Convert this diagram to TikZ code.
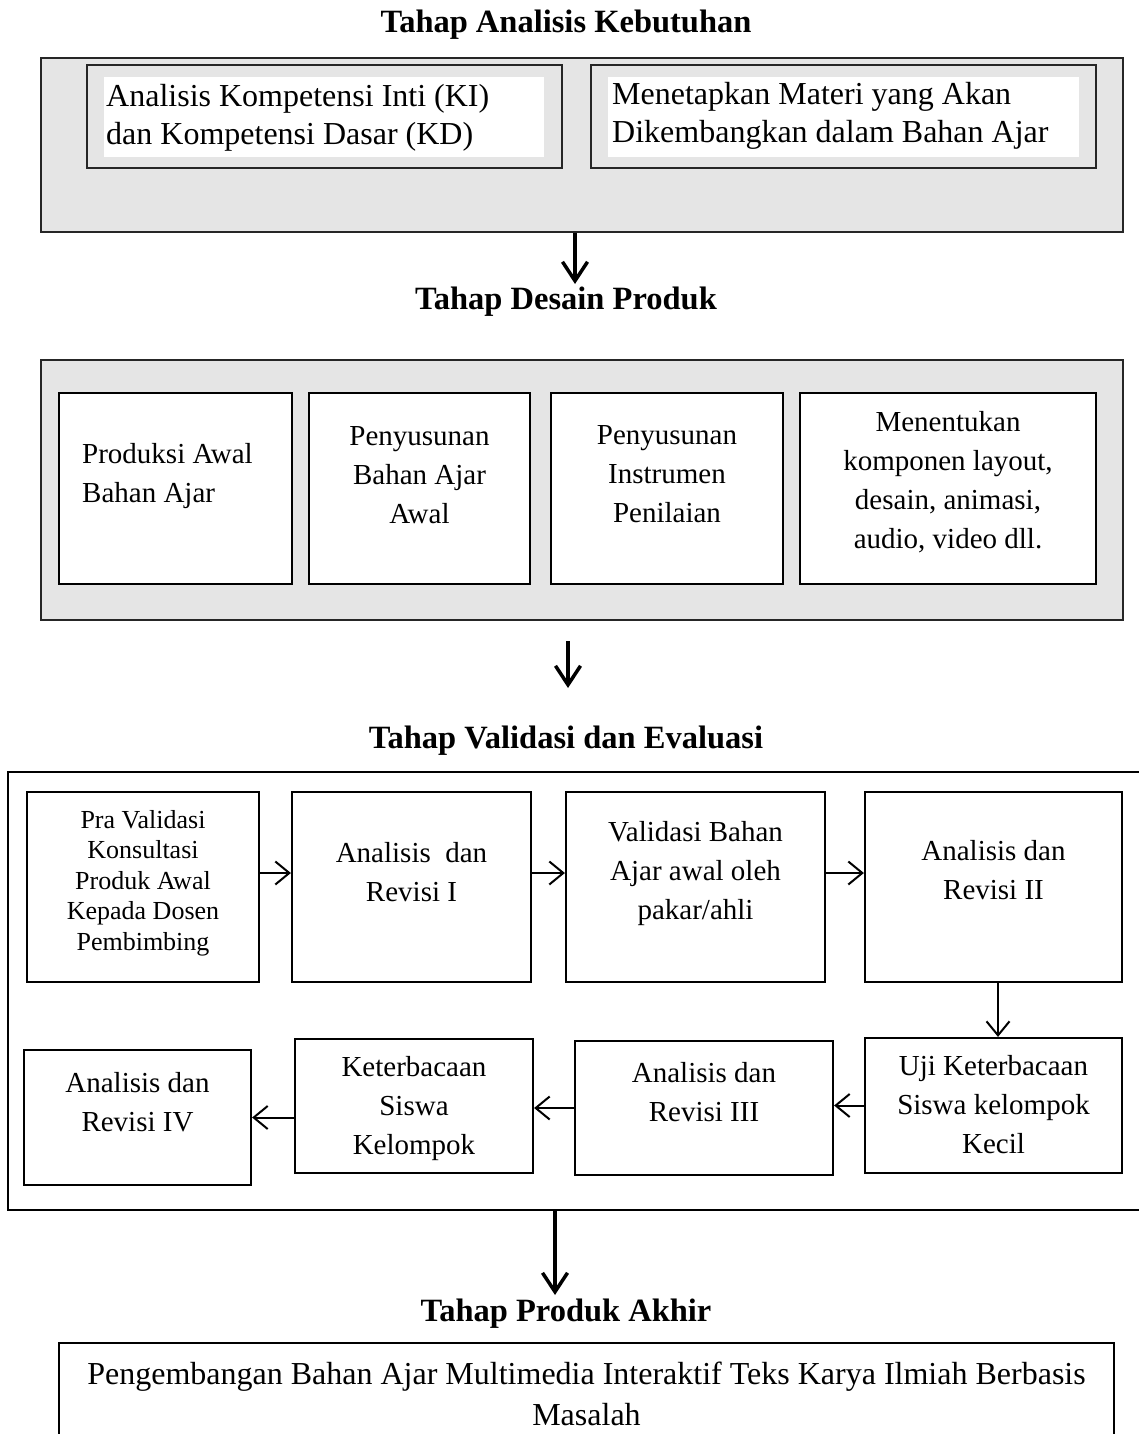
\documentclass[tikz,border=0pt]{standalone}
\usepackage{fontspec}
\setmainfont{Liberation Serif}
\usetikzlibrary{arrows.meta,fit}
\tikzset{
  graybox/.style={draw=black!85, fill=gray!20, line width=2.2pt, inner sep=0pt},
  wbox/.style={draw=black, fill=white, line width=2.2pt, inner sep=0pt},
  plainw/.style={draw=none, fill=white, inner sep=0pt},
  txt/.style={inner sep=0pt, align=center},
  ftop/.style={font=\fontsize{32}{38}\selectfont},
  fbot/.style={font=\fontsize{32}{41}\selectfont},
  fmid/.style={font=\fontsize{29}{39}\selectfont},
  fsmall/.style={font=\fontsize{26}{30.5}\selectfont},
  ftitle/.style={font=\bfseries\fontsize{32.5}{38}\selectfont, inner sep=0pt, anchor=base},
  bigarrow/.style={line width=3.5pt, -{Straight Barb[length=19pt,width=25pt,line width=3.5pt]}},
  smallarrow/.style={line width=2pt, -{Straight Barb[length=14pt,width=23pt,line width=2pt]}},
}
\begin{document}
\begin{tikzpicture}[x=1pt,y=-1pt]
\useasboundingbox (0,0) rectangle (1139,1434);
\fill[white] (0,0) rectangle (1139,1434);

% ---------- Tahap Analisis Kebutuhan ----------
\node[ftitle] (t1) at (566,33) {Tahap Analisis Kebutuhan};
\node[graybox, fit={(41,58) (1123,232)}] (g1) {};
\node[graybox, fit={(87,65) (562,168)}] (ka) {};
\node[plainw, fit={(104,77) (544,157)}] (kaw) {};
\node[graybox, fit={(591,65) (1096,168)}] (kb) {};
\node[plainw, fit={(608,77) (1079,157)}] (kbw) {};
\node[txt, ftop, align=left, anchor=west] (tka) at (106,118.4)
  {\strut Analisis Kompetensi Inti (KI)\\\strut dan Kompetensi Dasar (KD)};
\node[txt, ftop, align=left, anchor=west] (tkb) at (612,116.4)
  {\strut Menetapkan Materi yang Akan\\\strut Dikembangkan dalam Bahan Ajar};

\coordinate (a1) at (575,284);
\draw[bigarrow] (g1.south -| a1) -- (a1);

% ---------- Tahap Desain Produk ----------
\node[ftitle] (t2) at (566,309) {Tahap Desain Produk};
\node[graybox, fit={(41,360) (1123,620)}] (g2) {};
\node[wbox, fit={(59,393) (292,584)}] (d1) {};
\node[wbox, fit={(309,393) (530,584)}] (d2) {};
\node[wbox, fit={(551,393) (783,584)}] (d3) {};
\node[wbox, fit={(800,393) (1096,584)}] (d4) {};
\node[txt, fmid, align=left, anchor=west] (td1) at (82,474.7)
  {\strut Produksi Awal\\\strut Bahan Ajar};
\node[txt, fmid] (td2) at (419.5,476.4)
  {\strut Penyusunan\\\strut Bahan Ajar\\\strut Awal};
\node[txt, fmid] (td3) at (667,476)
  {\strut Penyusunan\\\strut Instrumen\\\strut Penilaian};
\node[txt, fmid] (td4) at (948,482)
  {\strut Menentukan\\\strut komponen layout,\\\strut desain, animasi,\\\strut audio, video dll.};

\coordinate (a2) at (568,688);
\draw[bigarrow] ([yshift=-20pt]g2.south -| a2) -- (a2);

% ---------- Tahap Validasi dan Evaluasi ----------
\node[ftitle] (t3) at (566,748) {Tahap Validasi dan Evaluasi};
\node[wbox, fit={(8,772) (1160,1210)}] (v3) {};
\node[wbox, fit={(27,792) (259,982)}] (b1) {};
\node[wbox, fit={(292,792) (531,982)}] (b2) {};
\node[wbox, fit={(566,792) (825,982)}] (b3) {};
\node[wbox, fit={(865,792) (1122,982)}] (b4) {};
\node[wbox, fit={(24,1050) (251,1185)}] (iv) {};
\node[wbox, fit={(295,1039) (533,1173)}] (kt) {};
\node[wbox, fit={(575,1041) (833,1175)}] (iii) {};
\node[wbox, fit={(865,1038) (1122,1173)}] (uji) {};

\node[txt, fsmall] (tb1) at (143,883)
  {\strut Pra Validasi\\Konsultasi\\Produk Awal\\Kepada Dosen\\\strut Pembimbing};
\node[txt, fmid] (tb2) at (411.5,874)
  {\strut Analisis\ \ dan\\\strut Revisi I};
\node[txt, fmid] (tb3) at (695.5,872.4)
  {\strut Validasi Bahan\\\strut Ajar awal oleh\\\strut pakar/ahli};
\node[txt, fmid] (tb4) at (993.5,872)
  {\strut Analisis dan\\\strut Revisi II};
\node[txt, fmid] (tiv) at (137.5,1104)
  {\strut Analisis dan\\\strut Revisi IV};
\node[txt, fmid] (tkt) at (414,1108)
  {\strut Keterbacaan\\\strut Siswa\\\strut Kelompok};
\node[txt, fmid] (tiii) at (704,1094)
  {\strut Analisis dan\\\strut Revisi III};
\node[txt, fmid] (tuji) at (993.5,1107)
  {\strut Uji Keterbacaan\\\strut Siswa kelompok\\\strut Kecil};

\draw[smallarrow] ([yshift=14pt]b1.east) -- ([yshift=14pt]b2.west);
\draw[smallarrow] ([yshift=14pt]b2.east) -- ([yshift=14pt]b3.west);
\draw[smallarrow] ([yshift=14pt]b3.east) -- ([yshift=14pt]b4.west);
\draw[smallarrow] ([xshift=4.5pt]b4.south) -- ([xshift=4.5pt]uji.north);
\draw[smallarrow] (uji.west) -- (iii.east |- uji.west);
\draw[smallarrow] (iii.west) -- (kt.east |- iii.west);
\draw[smallarrow] (kt.west |- iv.east) -- (iv.east);

\coordinate (a3) at (555,1295);
\draw[bigarrow] (v3.south -| a3) -- (a3);

% ---------- Tahap Produk Akhir ----------
\node[ftitle] (t4) at (566,1321) {Tahap Produk Akhir};
\node[wbox, fit={(59,1343) (1114,1470)}] (pa) {};
\node[txt, fbot] (tpa) at (586.5,1396.3)
  {\strut Pengembangan Bahan Ajar Multimedia Interaktif Teks Karya Ilmiah Berbasis\\\strut Masalah};
\end{tikzpicture}
\end{document}
